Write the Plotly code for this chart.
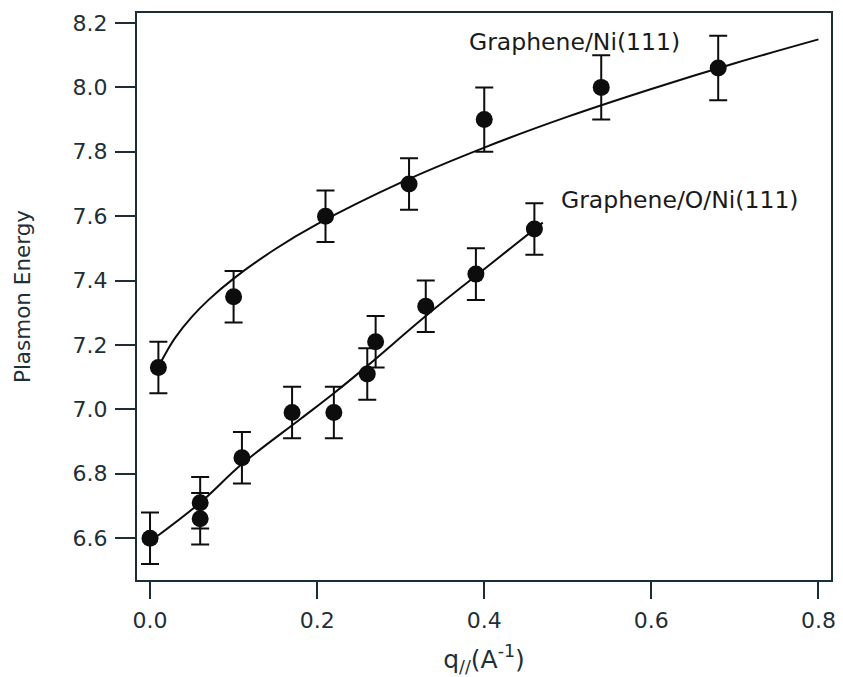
import plotly.graph_objects as go

# Graphene/Ni(111): momentum transfer, plasmon energy, error
ni_q = [0.01, 0.10, 0.21, 0.31, 0.40, 0.54, 0.68]
ni_e = [7.13, 7.35, 7.60, 7.70, 7.90, 8.00, 8.06]
ni_err = [0.08, 0.08, 0.08, 0.08, 0.10, 0.10, 0.10]

# Graphene/O/Ni(111)
oni_q = [0.0, 0.06, 0.06, 0.11, 0.17, 0.22, 0.26, 0.27, 0.33, 0.39, 0.46]
oni_e = [6.60, 6.71, 6.66, 6.85, 6.99, 6.99, 7.11, 7.21, 7.32, 7.42, 7.56]
oni_err = [0.08] * 11

# Fitted dispersion curves
ni_fit_q = [0.014, 0.02, 0.03, 0.05, 0.07, 0.10, 0.15, 0.20, 0.30, 0.40, 0.50, 0.60, 0.70, 0.80]
ni_fit_e = [7.152, 7.18, 7.222, 7.287, 7.34, 7.406, 7.498, 7.575, 7.704, 7.813, 7.909, 7.995, 8.075, 8.149]
oni_fit_q = [0.008, 0.06, 0.11, 0.18, 0.22, 0.26, 0.33, 0.39, 0.47]
oni_fit_e = [6.605, 6.71, 6.83, 6.97, 7.05, 7.135, 7.29, 7.415, 7.58]

x_ticks = [0.0, 0.2, 0.4, 0.6, 0.8]
y_ticks = [6.6, 6.8, 7.0, 7.2, 7.4, 7.6, 7.8, 8.0, 8.2]

ink = "#0d0d0d"
axis_col = "#1b2e36"
text_col = "#1f2f36"
font_family = "DejaVu Sans"

fig = go.Figure()

for fq, fe in [(ni_fit_q, ni_fit_e), (oni_fit_q, oni_fit_e)]:
    fig.add_trace(go.Scatter(
        x=fq, y=fe, mode="lines",
        line=dict(color=ink, width=2, shape="spline"),
        hoverinfo="skip", showlegend=False,
    ))

for q, e, err, name in [(ni_q, ni_e, ni_err, "Graphene/Ni(111)"),
                        (oni_q, oni_e, oni_err, "Graphene/O/Ni(111)")]:
    fig.add_trace(go.Scatter(
        x=q, y=e, mode="markers", name=name,
        marker=dict(color=ink, size=17, line=dict(width=0)),
        error_y=dict(type="data", array=err, visible=True,
                     color=ink, thickness=2, width=9),
        showlegend=False,
    ))

fig.add_annotation(x=0.379, y=8.141, text="Graphene/Ni(111)", showarrow=False,
                   xanchor="left", yanchor="middle",
                   font=dict(family=font_family, size=23.5, color="#1a1a1a"))
fig.add_annotation(x=0.4895, y=7.65, text="Graphene/O/Ni(111)", showarrow=False,
                   xanchor="left", yanchor="middle",
                   font=dict(family=font_family, size=23.5, color="#1a1a1a"))

axis_common = dict(
    showgrid=False, zeroline=False, showline=True, linecolor=axis_col,
    linewidth=2, mirror=True, ticks="outside", tickwidth=2,
    tickcolor=axis_col, ticklabelstandoff=3, automargin=False,
    tickfont=dict(family=font_family, size=22, color=text_col),
)

fig.update_xaxes(range=[-0.0156, 0.815], tickvals=x_ticks, ticklen=17,
                 ticktext=[f"{v:.1f}" for v in x_ticks],
                 title=dict(text="q<sub>//</sub>(A<sup>-1</sup>)",
                            font=dict(family=font_family, size=25, color=text_col),
                            standoff=20),
                 **axis_common)
fig.update_yaxes(range=[6.47, 8.231], tickvals=y_ticks, ticklen=20,
                 ticktext=[f"{v:.1f}" for v in y_ticks],
                 title=dict(text="Plasmon Energy",
                            font=dict(family=font_family, size=21.5, color=text_col),
                            standoff=36),
                 **axis_common)

fig.update_layout(
    width=843, height=677,
    margin=dict(l=137, r=12, t=13, b=97),
    paper_bgcolor="white", plot_bgcolor="white",
)

fig.write_html("out.html")
